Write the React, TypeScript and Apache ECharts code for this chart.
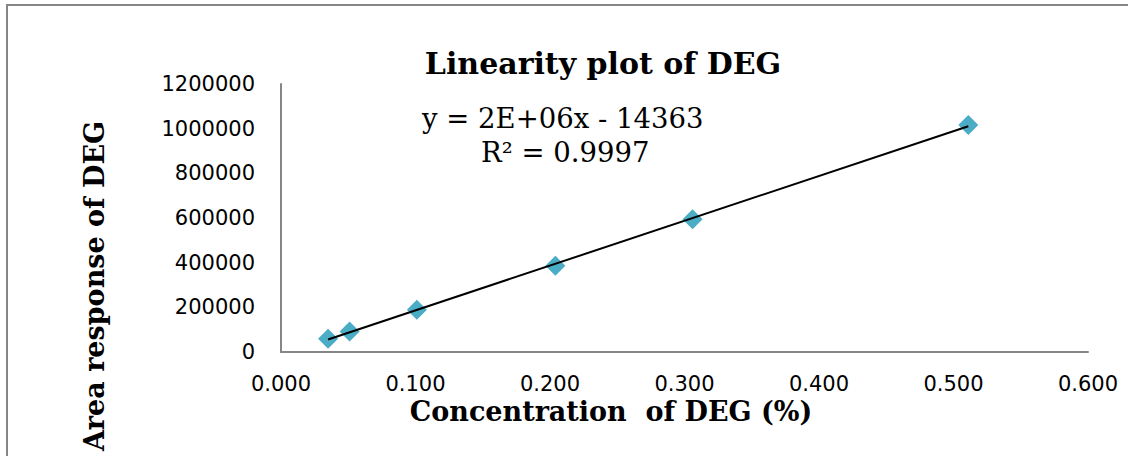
import React, { useEffect, useRef } from "react";
import * as echarts from "echarts";

const concentrations = [0.035, 0.051, 0.101, 0.204, 0.306, 0.511];
const areas = [59500, 92100, 189200, 386000, 594800, 1016500];
const xTicks = { min: 0, max: 0.6, interval: 0.1 };
const yTicks = { min: 0, max: 1200000, interval: 200000 };
const titleText = "Linearity plot of DEG";
const xTitle = "Concentration  of DEG (%)";
const yTitle = "Area response of DEG";
const equationText = "y = 2E+06x - 14363";
const r2Text = "R² = 0.9997";

function fit(xs: number[], ys: number[]) {
  const n = xs.length;
  const mx = xs.reduce((a, b) => a + b, 0) / n;
  const my = ys.reduce((a, b) => a + b, 0) / n;
  let sxy = 0, sxx = 0;
  for (let i = 0; i < n; i++) {
    sxy += (xs[i] - mx) * (ys[i] - my);
    sxx += (xs[i] - mx) * (xs[i] - mx);
  }
  const slope = sxy / sxx;
  return { slope, intercept: my - slope * mx };
}

export default function App() {
  const ref = useRef<HTMLDivElement>(null);
  useEffect(() => {
    if (!ref.current) return;
    const chart = echarts.init(ref.current, null, { renderer: "svg" });
    const { slope, intercept } = fit(concentrations, areas);
    const x0 = Math.min(...concentrations);
    const x1 = Math.max(...concentrations);
    const trend = [
      [x0, slope * x0 + intercept],
      [x1, slope * x1 + intercept],
    ];
    const axisColor = "#868686";
    chart.setOption({
      animation: false,
      backgroundColor: "#ffffff",
      grid: { left: 281, right: 40, top: 84, bottom: 104, containLabel: false },
      xAxis: {
        type: "value",
        min: xTicks.min,
        max: xTicks.max,
        interval: xTicks.interval,
        splitLine: { show: false },
        axisTick: { show: false },
        axisLine: { show: true, onZero: false, lineStyle: { color: axisColor, width: 2 } },
        axisLabel: {
          fontFamily: "DejaVu Sans",
          fontSize: 21,
          color: "#000",
          margin: 21,
          formatter: (v: number) => v.toFixed(3),
        },
      },
      yAxis: {
        type: "value",
        min: yTicks.min,
        max: yTicks.max,
        interval: yTicks.interval,
        splitLine: { show: false },
        axisTick: { show: false },
        axisLine: { show: true, lineStyle: { color: axisColor, width: 2 } },
        axisLabel: {
          fontFamily: "DejaVu Sans",
          fontSize: 21,
          color: "#000",
          margin: 26,
          formatter: (v: number) => String(v),
        },
      },
      graphic: [
        {
          type: "rect",
          shape: { x: 7, y: 5, width: 1140, height: 470 },
          style: { fill: "none", stroke: axisColor, lineWidth: 2 },
          silent: true,
        },
        {
          type: "text",
          x: 603,
          y: 63,
          style: {
            text: titleText,
            fontFamily: "DejaVu Serif",
            fontWeight: "bold",
            fontSize: 30,
            fill: "#000",
            align: "center",
            verticalAlign: "middle",
          },
        },
        {
          type: "text",
          x: 611,
          y: 411,
          style: {
            text: xTitle,
            fontFamily: "DejaVu Serif",
            fontWeight: "bold",
            fontSize: 27,
            fill: "#000",
            align: "center",
            verticalAlign: "middle",
          },
        },
        {
          type: "text",
          x: 94,
          y: 286,
          rotation: Math.PI / 2,
          style: {
            text: yTitle,
            fontFamily: "DejaVu Serif",
            fontWeight: "bold",
            fontSize: 27,
            fill: "#000",
            align: "center",
            verticalAlign: "middle",
          },
        },
        {
          type: "text",
          x: 422,
          y: 118,
          style: {
            text: equationText,
            fontFamily: "DejaVu Serif",
            fontSize: 27.5,
            fill: "#000",
            align: "left",
            verticalAlign: "middle",
          },
        },
        {
          type: "text",
          x: 481,
          y: 152,
          style: {
            text: r2Text,
            fontFamily: "DejaVu Serif",
            fontSize: 27.5,
            fill: "#000",
            align: "left",
            verticalAlign: "middle",
          },
        },
      ],
      series: [
        {
          type: "scatter",
          data: concentrations.map((c, i) => [c, areas[i]]),
          symbol: "diamond",
          symbolSize: 20,
          itemStyle: { color: "#4BACC6", opacity: 1 },
          z: 2,
        },
        {
          type: "line",
          data: trend,
          showSymbol: false,
          symbol: "none",
          lineStyle: { color: "#000", width: 2 },
          z: 3,
        },
      ],
    });
    return () => chart.dispose();
  }, []);
  return (
    <div
      ref={ref}
      style={{ position: "fixed", left: 0, top: 0, width: 1128, height: 456 }}
    />
  );
}
